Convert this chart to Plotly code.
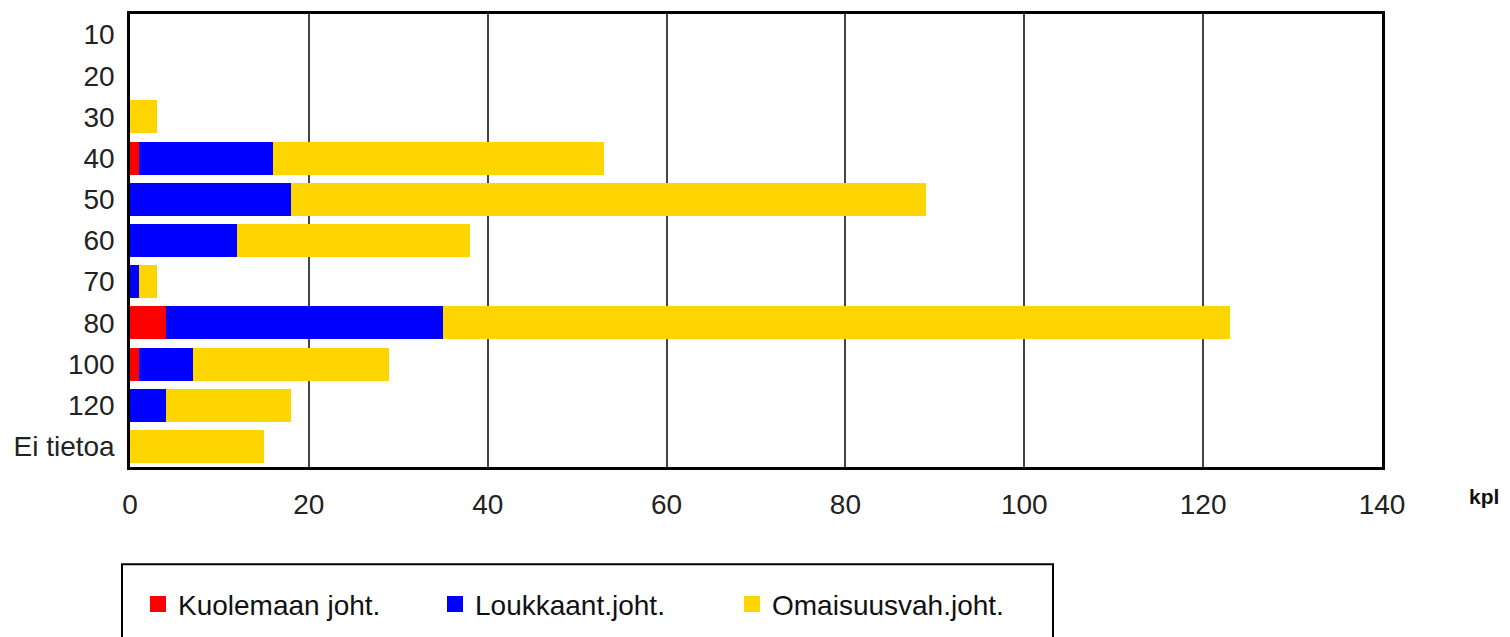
import plotly.graph_objects as go

categories = ["10", "20", "30", "40", "50", "60", "70", "80", "100", "120", "Ei tietoa"]
kuolemaan = [0, 0, 0, 1, 0, 0, 0, 4, 1, 0, 0]
loukkaant = [0, 0, 0, 15, 18, 12, 1, 31, 6, 4, 0]
omaisuus = [0, 0, 3, 37, 71, 26, 2, 88, 22, 14, 15]
series_names = ["Kuolemaan joht.", "Loukkaant.joht.", "Omaisuusvah.joht."]
colors = ["#FF0000", "#0000FF", "#FFD500"]
x_ticks = [0, 20, 40, 60, 80, 100, 120, 140]

# page body has an 8px margin; target plot area (screen): x 130..1382, y 11..467
OFF = 8
W, H = 1510 - OFF, 637 - OFF
X0, X1, Y0, Y1 = 130, 1382, 11, 467
L, R, T, B = X0 - OFF, W - (X1 - OFF), Y0 - OFF, H - (Y1 - OFF)
pw, ph = X1 - X0, Y1 - Y0

def px(x):
    return (x - X0) / pw

def py(y):
    return (Y1 - y) / ph

fig = go.Figure()
for name, vals, col in zip(series_names, [kuolemaan, loukkaant, omaisuus], colors):
    fig.add_trace(go.Bar(y=categories, x=vals, name=name, orientation="h",
                         legendgroup=name, showlegend=False,
                         marker=dict(color=col, line=dict(width=0))))
    # legend entry with a larger square swatch
    fig.add_trace(go.Scatter(x=[None], y=[None], mode="markers", name=name,
                             legendgroup=name, showlegend=True,
                             marker=dict(symbol="square", size=18, color=col)))

font = "Liberation Sans, Arial, sans-serif"
fig.update_layout(
    width=W, height=H,
    margin=dict(l=L, r=R, t=T, b=B, pad=0),
    barmode="stack", bargap=0.2,
    plot_bgcolor="white", paper_bgcolor="white",
    font=dict(family=font, size=28, color="#222222"),
    showlegend=True,
    legend=dict(orientation="h", x=px(138), xanchor="left", y=py(580), yanchor="top",
                entrywidth=252, entrywidthmode="pixels", itemsizing="trace",
                font=dict(size=28, color="#111111"), bgcolor="rgba(0,0,0,0)",
                traceorder="normal"),
    xaxis=dict(range=[0, 140], tickvals=x_ticks, showgrid=True, gridcolor="#444444",
               gridwidth=2, showline=True, linecolor="black", linewidth=2.5, mirror=True,
               zeroline=False, ticks="", ticklabelstandoff=11, fixedrange=True,
               tickfont=dict(size=28, color="#222222")),
    yaxis=dict(categoryorder="array", categoryarray=categories, autorange="reversed",
               showgrid=False, showline=True, linecolor="black", linewidth=2.5, mirror=True,
               ticks="", ticklabelstandoff=7, fixedrange=True,
               tickfont=dict(size=28, color="#222222")),
    annotations=[dict(text="<b>kpl</b>", x=px(1484), y=py(497), xref="paper", yref="paper",
                      xanchor="center", yanchor="middle",
                      showarrow=False, font=dict(size=21, color="#111111"))],
    shapes=[dict(type="rect", xref="paper", yref="paper",
                 x0=px(122), x1=px(1053), y0=py(565), y1=py(700),
                 line=dict(color="black", width=2))],
)
fig.write_html("out.html")
